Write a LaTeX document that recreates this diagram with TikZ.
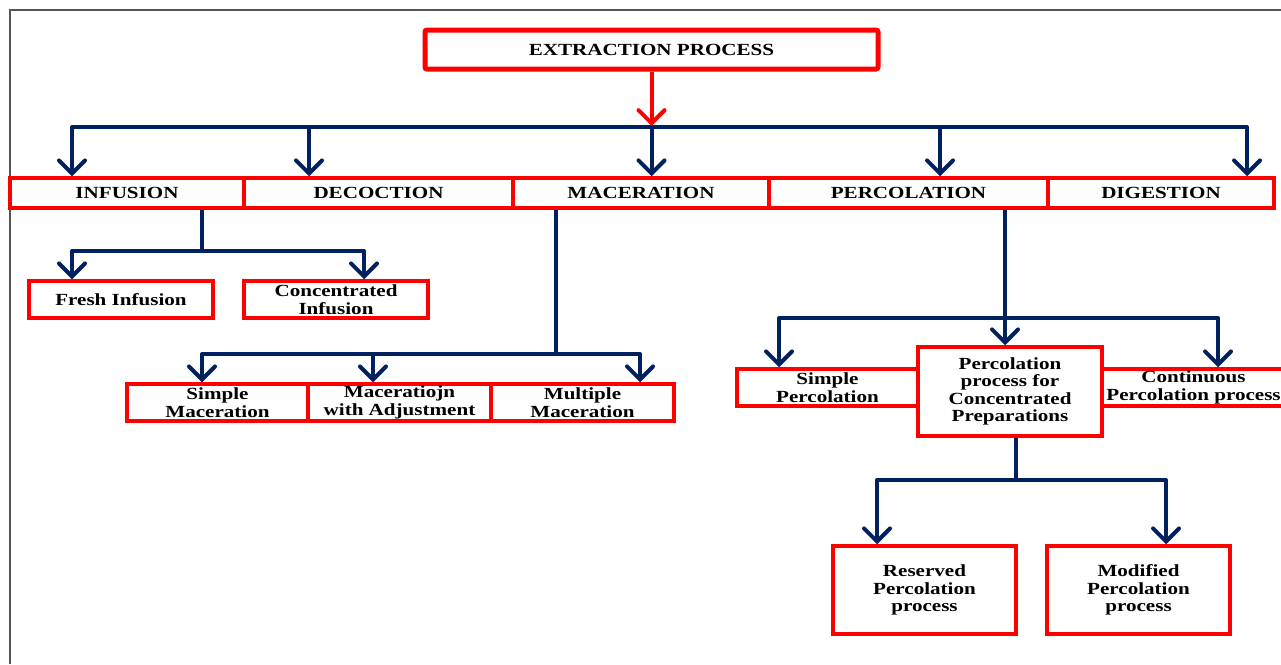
\documentclass[tikz,border=0pt]{standalone}
\usepackage{fontspec}
\setmainfont{Liberation Serif}[FakeStretch=1.24]
\usetikzlibrary{arrows.meta}
\definecolor{navy}{HTML}{002060}
\definecolor{bred}{HTML}{FF0000}
\definecolor{framegray}{HTML}{555555}
\begin{document}
\begin{tikzpicture}[x=1pt,y=-1pt,
  txt/.style={font=\fontsize{17}{17.5}\selectfont\bfseries, align=center, inner sep=0pt, text=black},
  rbox/.style={txt, draw=bred, line width=3.5pt, rectangle},
  topbox/.style={txt, draw=bred, line width=5pt, rectangle, rounded corners=2pt},
  conn/.style={draw=navy, line width=4pt, line join=round},
  arr/.style={conn, -{Straight Barb[length=13pt,width=26pt,line cap=round]}},
  rarr/.style={draw=bred, line width=4pt, -{Straight Barb[length=13pt,width=26pt,line cap=round]}},
  frameline/.style={draw=framegray, line width=1.5pt}
]
\useasboundingbox (0,0) rectangle (1281,664);
\clip (0,0) rectangle (1281,664);
\fill[white] (0,0) rectangle (1281,664);
\draw[frameline] (10,664) -- (10,10) -- (1281,10);

% top
\node[topbox, minimum width=453pt, minimum height=39pt] (top) at (651.5,49.5) {EXTRACTION PROCESS};

% first row
\node[rbox, minimum width=234pt, minimum height=30pt] (inf) at (127,193) {INFUSION};
\node[rbox, minimum width=269pt, minimum height=30pt] (dec) at (378.5,193) {DECOCTION};
\node[rbox, minimum width=256pt, minimum height=30pt] (mac) at (641,193) {MACERATION};
\node[rbox, minimum width=279pt, minimum height=30pt] (per) at (908.5,193) {PERCOLATION};
\node[rbox, minimum width=226pt, minimum height=30pt] (dig) at (1161,193) {DIGESTION};

% infusion children
\node[rbox, minimum width=184pt, minimum height=37pt] (fresh) at (121,299.5) {Fresh Infusion};
\node[rbox, minimum width=184pt, minimum height=37pt] (conc) at (336,299.5) {Concentrated\\Infusion};

% maceration children
\node[rbox, minimum width=181pt, minimum height=37pt] (sm) at (217.5,402.5) {Simple\\Maceration};
\node[rbox, minimum width=183pt, minimum height=37pt] (mwa) at (399.5,402.5) {Maceratiojn\\with Adjustment};
\node[rbox, minimum width=183pt, minimum height=37pt] (mm) at (582.5,402.5) {Multiple\\Maceration};

% percolation children
\node[rbox, minimum width=181pt, minimum height=37pt] (sp) at (827.5,387.5) {Simple\\Percolation};
\node[rbox, minimum width=183pt, minimum height=37pt] (cp) at (1193.5,387.5) {Continuous\\Percolation process};
\node[rbox, minimum width=184pt, minimum height=89pt] (pc) at (1010,391.5) {Percolation\\process for\\Concentrated\\Preparations};

\node[rbox, minimum width=183pt, minimum height=88pt] (rp) at (924.5,590) {Reserved\\Percolation\\process};
\node[rbox, minimum width=183pt, minimum height=88pt] (mp) at (1138.5,590) {Modified\\Percolation\\process};

% coordinates
\coordinate (bus) at (651.5,127);
\coordinate (xA) at (72,0);
\coordinate (xB) at (309,0);
\coordinate (xD) at (940,0);
\coordinate (xE) at (1247,0);
\coordinate (redend) at (651.5,126);

% main bus
\draw[arr] (bus) -| (inf.north -| xA);
\draw[arr] (bus) -| (dig.north -| xE);
\draw[arr] (bus) -- (bus |- mac.north);
\draw[arr] (bus -| xB) -- (dec.north -| xB);
\draw[arr] (bus -| xD) -- (per.north -| xD);
\draw[rarr] (top.south) -- (redend);

% infusion branch
\coordinate (iS) at (202,0);
\coordinate (iJ) at (202,251);
\coordinate (xF) at (72,0);
\coordinate (xC) at (364,0);
\draw[conn] (inf.south -| iS) -- (iJ);
\draw[arr] (iJ) -| (fresh.north -| xF);
\draw[arr] (iJ) -| (conc.north -| xC);

% maceration branch
\coordinate (mS) at (556,0);
\coordinate (mJ) at (556,354);
\coordinate (x1) at (202,0);
\coordinate (x2) at (373,0);
\coordinate (x3) at (640,0);
\draw[conn] (mac.south -| mS) -- (mJ);
\draw[arr] (mJ) -| (sm.north -| x1);
\draw[arr] (mJ) -| (mm.north -| x3);
\draw[arr] (mJ -| x2) -- (mwa.north -| x2);

% percolation branch
\coordinate (pS) at (1005,0);
\coordinate (pJ) at (1005,318);
\coordinate (xs) at (779,0);
\coordinate (xc) at (1218,0);
\draw[arr] (per.south -| pS) -- (pc.north -| pS);
\draw[arr] (pJ) -| (sp.north -| xs);
\draw[arr] (pJ) -| (cp.north -| xc);

% concentrated branch
\coordinate (cS) at (1016,0);
\coordinate (cJ) at (1016,480);
\coordinate (xr) at (877,0);
\coordinate (xm) at (1166,0);
\draw[conn] (pc.south -| cS) -- (cJ);
\draw[arr] (cJ) -| (rp.north -| xr);
\draw[arr] (cJ) -| (mp.north -| xm);
\end{tikzpicture}
\end{document}
